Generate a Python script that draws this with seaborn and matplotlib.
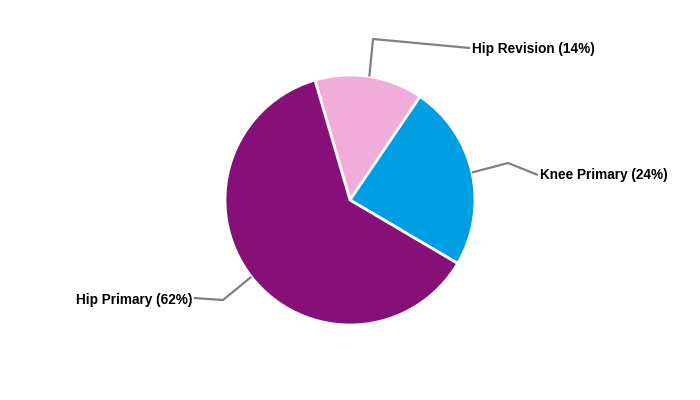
import numpy as np
import matplotlib
matplotlib.use("Agg")
import matplotlib.pyplot as plt
import seaborn as sns

# slices in clockwise order, starting just left of 12 o'clock
categories = ["Hip Revision", "Knee Primary", "Hip Primary"]
shares = [14, 24, 62]
colors = ["#F2ACD9", "#009EE3", "#871078"]

# leader line layout (data units, pie radius = 1): elbow, line end, text anchor
elbows = [(0.184, 1.288), (1.264, 0.296), (-1.016, -0.80)]
line_ends = [(0.96, 1.216), (1.504, 0.20), (-1.248, -0.784)]
text_pos = [(0.976, 1.208), (1.52, 0.20), (-1.264, -0.80)]
text_ha = ["left", "left", "right"]

sns.set_style("white")
plt.rcParams["font.family"] = ["Liberation Sans", "DejaVu Sans"]

fig = plt.figure(figsize=(7, 4), dpi=100)
ax = fig.add_axes([0, 0, 1, 1])
ax.axis("off")

wedges, _ = ax.pie(shares, colors=colors, startangle=106.3, counterclock=False,
                   radius=1, center=(0, 0),
                   wedgeprops=dict(edgecolor="white", linewidth=2))

for w, lab, val, el, le, tp, ha in zip(wedges, categories, shares, elbows,
                                       line_ends, text_pos, text_ha):
    mid = np.deg2rad((w.theta1 + w.theta2) / 2)
    start = (np.cos(mid), np.sin(mid))
    ax.plot([start[0], el[0], le[0]], [start[1], el[1], le[1]],
            color="#808080", lw=1.6, solid_capstyle="butt")
    ax.text(tp[0], tp[1], f"{lab} ({val}%)", ha=ha, va="center",
            fontsize=9.8, fontweight="bold", color="black")

ax.set_xlim(-2.8, 2.8)
ax.set_ylim(-1.6, 1.6)
ax.set_aspect("equal")

fig.savefig("out.png", dpi=100, facecolor="white")
